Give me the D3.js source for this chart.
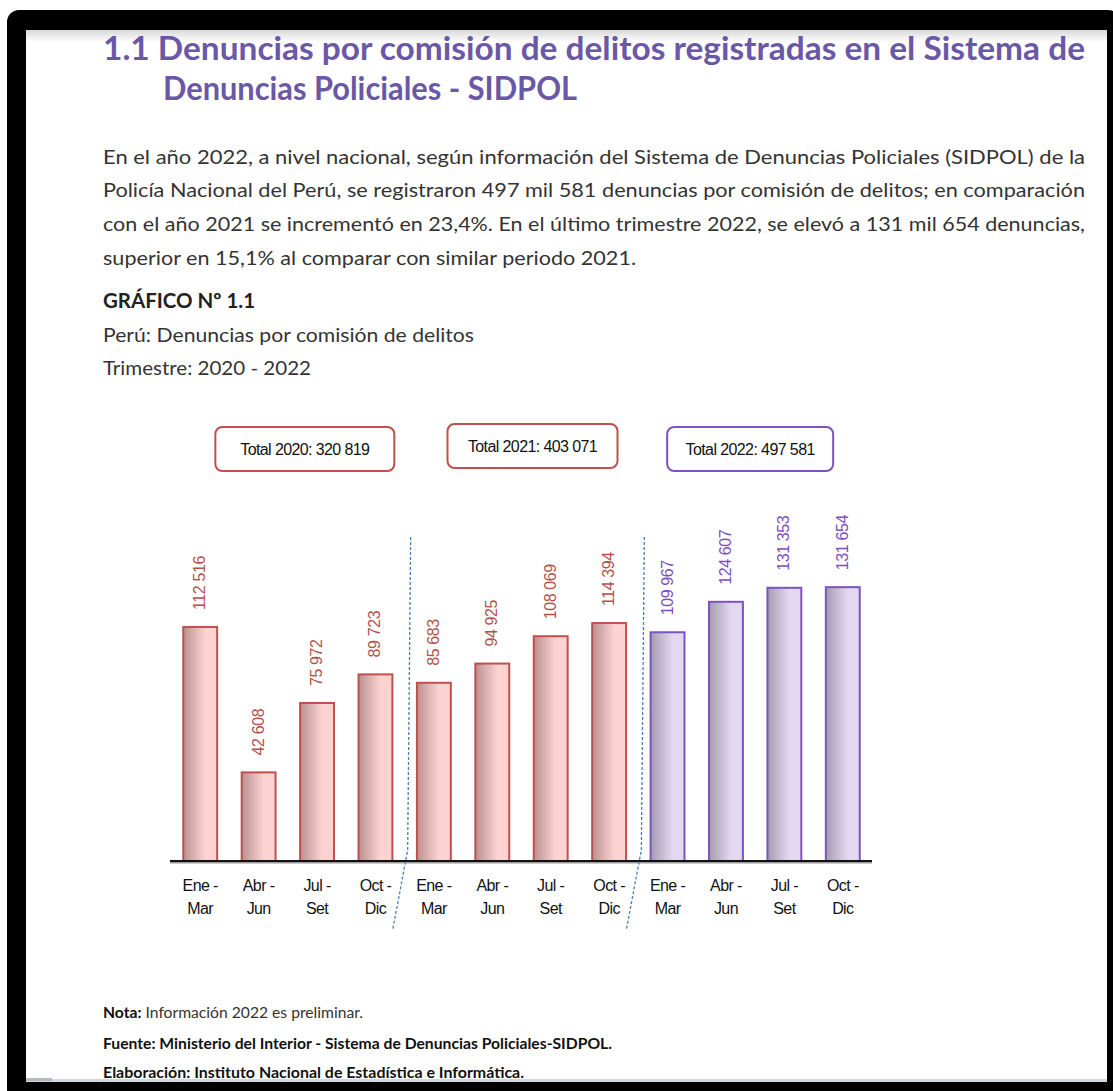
<!DOCTYPE html>
<html>
<head>
<meta charset="utf-8">
<script src="https://cdn.jsdelivr.net/npm/d3@7"></script>
<style>
  body { margin: 0; background: #fff; }
  svg { display: block; }
</style>
</head>
<body>
<svg id="page"></svg>
<script>
// data
const quarters = [["Ene -", "Mar"], ["Abr -", "Jun"], ["Jul -", "Set"], ["Oct -", "Dic"]];
const years = ["2020", "2021", "2022"];
const values2020 = [112516, 42608, 75972, 89723];
const values2021 = [85683, 94925, 108069, 114394];
const values2022 = [109967, 124607, 131353, 131654];
const totals = ["320 819", "403 071", "497 581"];

const titleLines = [
  "1.1 Denuncias por comisión de delitos registradas en el Sistema de",
  "Denuncias Policiales - SIDPOL"
];
const paragraph = [
  "En el año 2022, a nivel nacional, según información del Sistema de Denuncias Policiales (SIDPOL) de la",
  "Policía Nacional del Perú, se registraron 497 mil 581 denuncias por comisión de delitos; en comparación",
  "con el año 2021 se incrementó en 23,4%. En el último trimestre 2022, se elevó a 131 mil 654 denuncias,",
  "superior en 15,1% al comparar con similar periodo 2021."
];

const W = 1113, H = 1091;
const svg = d3.select("#page").attr("width", W).attr("height", H);

// screenshot frame
svg.append("rect").attr("x", 7).attr("y", 10).attr("width", W).attr("height", H)
  .attr("rx", 12).attr("fill", "#000");
const inner = { x: 26, y: 30, w: 1081, h: 1051 };
svg.append("rect").attr("x", inner.x).attr("y", inner.y).attr("width", inner.w).attr("height", inner.h)
  .attr("fill", "#fff");

const defs = svg.append("defs");
const topShade = defs.append("linearGradient").attr("id", "topShade")
  .attr("x1", 0).attr("x2", 0).attr("y1", 0).attr("y2", 1);
topShade.append("stop").attr("offset", "0%").attr("stop-color", "#d8d8d8");
topShade.append("stop").attr("offset", "100%").attr("stop-color", "#fff");
svg.append("rect").attr("x", inner.x).attr("y", inner.y).attr("width", inner.w).attr("height", 12)
  .attr("fill", "url(#topShade)");
svg.append("rect").attr("x", inner.x).attr("y", 1079).attr("width", inner.w).attr("height", 3)
  .attr("fill", "#cfd8e3");
svg.append("rect").attr("x", inner.x).attr("y", 1078).attr("width", 26).attr("height", 3)
  .attr("fill", "#b8b8b8");

const bodyFont = "Lato, 'Open Sans', sans-serif";

// title
const titleG = svg.append("g").attr("font-family", bodyFont).attr("font-weight", "bold")
  .attr("font-size", 32).attr("fill", "#6a58a6");
titleG.append("text").attr("x", 103).attr("y", 60).attr("textLength", 982)
  .attr("lengthAdjust", "spacingAndGlyphs").text(titleLines[0]);
titleG.append("text").attr("x", 163).attr("y", 100).attr("textLength", 414)
  .attr("lengthAdjust", "spacingAndGlyphs").text(titleLines[1]);

// paragraph
const paraEnds = [1085, 1085, 1085, 636];
const paraY = [164, 197, 231, 265];
const paraG = svg.append("g").attr("font-family", bodyFont).attr("font-size", 20).attr("fill", "#333");
paragraph.forEach((line, i) => {
  paraG.append("text").attr("x", 103).attr("y", paraY[i])
    .attr("textLength", paraEnds[i] - 103).attr("lengthAdjust", "spacingAndGlyphs").text(line);
});

paraG.append("text").attr("x", 103).attr("y", 308).attr("font-weight", "bold").attr("fill", "#222")
  .attr("textLength", 152).attr("lengthAdjust", "spacingAndGlyphs").text("GRÁFICO Nº 1.1");
paraG.append("text").attr("x", 103).attr("y", 342)
  .attr("textLength", 371).attr("lengthAdjust", "spacingAndGlyphs").text("Perú: Denuncias por comisión de delitos");
paraG.append("text").attr("x", 103).attr("y", 375)
  .attr("textLength", 208).attr("lengthAdjust", "spacingAndGlyphs").text("Trimestre: 2020 - 2022");

// chart
const series = [values2020, values2021, values2022];
const rows = [];
series.forEach((vals, yi) => {
  vals.forEach((v, qi) => {
    rows.push({ key: years[yi] + "-" + qi, year: yi, q: qi, value: v });
  });
});

const x = d3.scaleBand().domain(rows.map(d => d.key)).range([171, 872])
  .paddingInner(0.42).paddingOuter(0.21);
const y = d3.scaleLinear().domain([0, 140000]).range([861, 861 - 140000 * 0.00208]);

const fmt = d3.formatLocale({ thousands: " ", grouping: [3], decimal: "," }).format(",d");

const palettes = [
  { stroke: "#c0504d", text: "#b5504c", dark: "#b89190", light: "#fdd3d2", id: "gRed" },
  { stroke: "#c0504d", text: "#b5504c", dark: "#b89190", light: "#fdd3d2", id: "gRed" },
  { stroke: "#7e52bf", text: "#7d4ec0", dark: "#a39caf", light: "#e3d8f2", id: "gPurple" }
];
[palettes[0], palettes[2]].forEach(p => {
  const g = defs.append("linearGradient").attr("id", p.id).attr("x1", 0).attr("x2", 1);
  g.append("stop").attr("offset", "0%").attr("stop-color", p.dark);
  g.append("stop").attr("offset", "65%").attr("stop-color", p.light);
  g.append("stop").attr("offset", "100%").attr("stop-color", p.light);
});

const chart = svg.append("g").attr("font-family", "'Liberation Sans', Arial, sans-serif");

chart.selectAll("rect.bar").data(rows).join("rect").attr("class", "bar")
  .attr("x", d => x(d.key)).attr("width", x.bandwidth())
  .attr("y", d => y(d.value)).attr("height", d => y(0) - y(d.value))
  .attr("fill", d => `url(#${palettes[d.year].id})`)
  .attr("stroke", d => palettes[d.year].stroke).attr("stroke-width", 2);

chart.selectAll("text.val").data(rows).join("text").attr("class", "val")
  .attr("transform", d => `translate(${x(d.key) + x.bandwidth() / 2 + 5},${y(d.value) - 17}) rotate(-90)`)
  .attr("font-size", 16).attr("letter-spacing", -0.4)
  .attr("fill", d => palettes[d.year].text).text(d => fmt(d.value));

// axis baseline
chart.append("line").attr("x1", 170).attr("x2", 872).attr("y1", y(0) + 1.5).attr("y2", y(0) + 1.5)
  .attr("stroke", "#999").attr("stroke-width", 2);
chart.append("line").attr("x1", 170).attr("x2", 872).attr("y1", y(0)).attr("y2", y(0))
  .attr("stroke", "#111").attr("stroke-width", 2);

// category labels
const lab = chart.selectAll("g.lab").data(rows).join("g").attr("class", "lab")
  .attr("transform", d => `translate(${x(d.key) + x.bandwidth() / 2},0)`)
  .attr("font-size", 16).attr("letter-spacing", -0.6).attr("fill", "#111").attr("text-anchor", "middle");
lab.append("text").attr("y", 891).text(d => quarters[d.q][0]);
lab.append("text").attr("y", 914).text(d => quarters[d.q][1]);

// year separators
[4, 8].forEach(i => {
  const bx = (x(rows[i - 1].key) + x.bandwidth() + x(rows[i].key)) / 2;
  const pts = [[bx + 6, 537], [bx + 3, 850], [bx - 12, 930]];
  chart.append("path").attr("d", d3.line()(pts)).attr("fill", "none")
    .attr("stroke", "#4a7ebb").attr("stroke-width", 1.3).attr("stroke-dasharray", "3,2");
});

// total boxes
const boxNudge = [17, 11, -5];
const boxW = [179, 170, 166];
const boxY = [427, 424, 427];
years.forEach((yr, i) => {
  const first = x(rows[i * 4].key), last = x(rows[i * 4 + 3].key) + x.bandwidth();
  const cx = (first + last) / 2 + boxNudge[i];
  chart.append("rect").attr("x", cx - boxW[i] / 2).attr("y", boxY[i])
    .attr("width", boxW[i]).attr("height", 44).attr("rx", 7)
    .attr("fill", "#fff").attr("stroke", palettes[i].stroke).attr("stroke-width", 2);
  chart.append("text").attr("x", cx).attr("y", boxY[i] + 28).attr("text-anchor", "middle")
    .attr("font-size", 16).attr("letter-spacing", -0.6).attr("fill", "#111")
    .text(`Total ${yr}: ${totals[i]}`);
});

// footer notes
const foot = svg.append("g").attr("font-family", bodyFont).attr("font-size", 14.5).attr("fill", "#333");
const nota = foot.append("text").attr("x", 103).attr("y", 1018)
  .attr("textLength", 260).attr("lengthAdjust", "spacingAndGlyphs");
nota.append("tspan").attr("font-weight", "bold").attr("fill", "#111").text("Nota:");
nota.append("tspan").text(" Información 2022 es preliminar.");
foot.append("text").attr("x", 103).attr("y", 1049).attr("font-weight", "bold").attr("fill", "#111")
  .attr("textLength", 509).attr("lengthAdjust", "spacingAndGlyphs")
  .text("Fuente: Ministerio del Interior - Sistema de Denuncias Policiales-SIDPOL.");
foot.append("text").attr("x", 103).attr("y", 1078).attr("font-weight", "bold").attr("fill", "#111")
  .attr("textLength", 421).attr("lengthAdjust", "spacingAndGlyphs")
  .text("Elaboración: Instituto Nacional de Estadística e Informática.");
</script>
</body>
</html>
